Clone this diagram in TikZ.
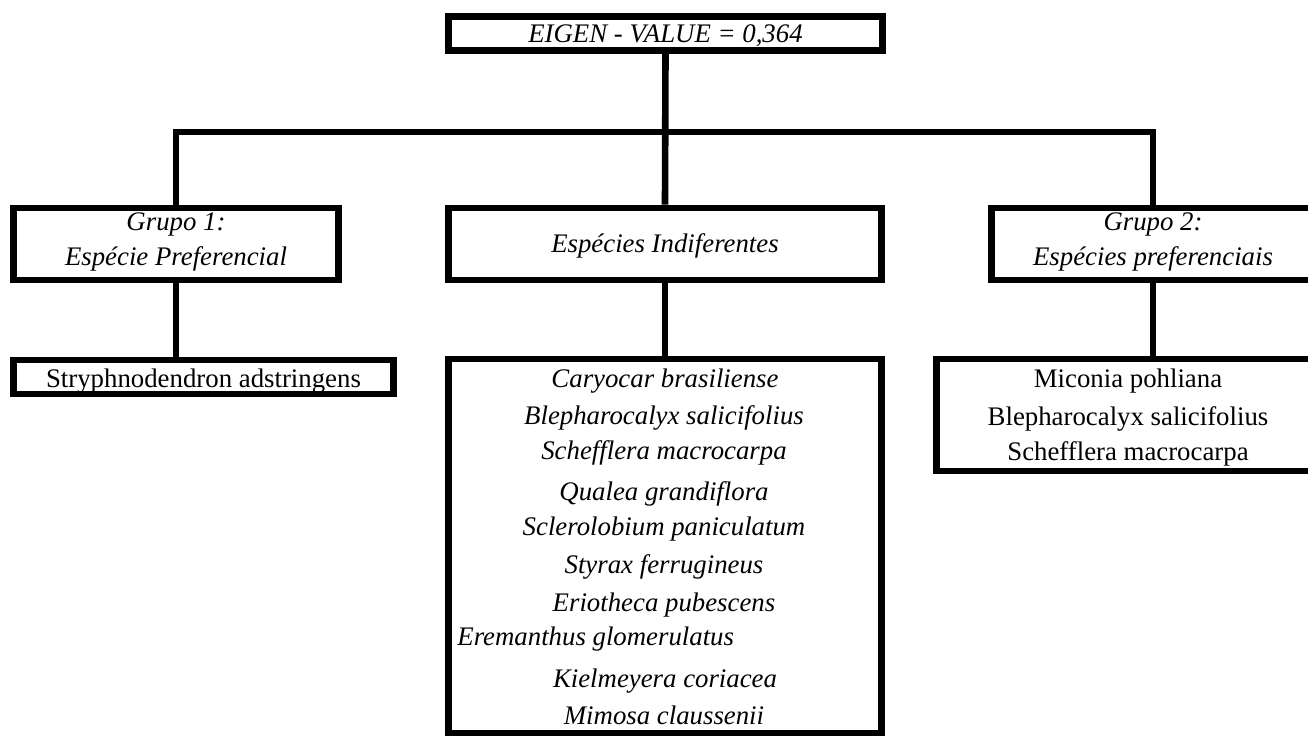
\documentclass[tikz,border=0pt]{standalone}
\usepackage{fontspec}
\setmainfont{Liberation Serif}
\begin{document}
\begin{tikzpicture}[x=0.5pt,y=-0.5pt,
  box/.style={draw=black,line width=3.3pt,inner sep=0pt,rectangle},
  conn/.style={draw=black,line width=3.3pt},
  txt/.style={inner sep=0pt,anchor=base,font=\fontsize{13.4}{17}\selectfont},
  itxt/.style={txt,font=\fontsize{13.4}{17}\selectfont\itshape}]
\useasboundingbox[fill=white] (0,0) rectangle (1308,736);
% boxes
\node[box,minimum width=217pt,minimum height=17pt] (top) at (665.5,33.5) {};
\node[box,minimum width=162.5pt,minimum height=36pt] (g1) at (176,244) {};
\node[box,minimum width=216.5pt,minimum height=36pt] (mid) at (665,244) {};
\node[box,minimum width=161.5pt,minimum height=36pt] (g2) at (1153,244) {};
\node[box,minimum width=190pt,minimum height=17pt] (stry) at (203.5,377) {};
\node[box,minimum width=216.5pt,minimum height=187pt] (ind) at (665,546) {};
\node[box,minimum width=191.5pt,minimum height=56pt] (pref) at (1128,415) {};
\coordinate (bus) at (665,132);
% connectors
\draw[conn] (top.south) -- (mid.north);
\draw[conn] (g1.north) -- (g1.north |- bus) -- (g2.north |- bus) -- (g2.north);
\draw[conn] (g1.south) -- (g1.south |- stry.north);
\draw[conn] (mid.south) -- (ind.north);
\draw[conn] (g2.south) -- (g2.south |- pref.north);
% texts
\node[itxt] (ttop) at (665.5,42) {EIGEN - VALUE = 0,364};
\node[itxt] (tg1a) at (176,230) {Grupo 1:};
\node[itxt] (tg1b) at (176,265) {Espécie Preferencial};
\node[itxt] (tmid) at (665,252) {Espécies Indiferentes};
\node[itxt] (tg2a) at (1153,230) {Grupo 2:};
\node[itxt] (tg2b) at (1153,265) {Espécies preferenciais};
\node[txt] (tstry) at (203.5,387) {Stryphnodendron adstringens};
\node[itxt] (s1) at (665,387) {Caryocar brasiliense};
\node[itxt] (s2) at (664,424) {Blepharocalyx salicifolius};
\node[itxt] (s3) at (664,459) {Schefflera macrocarpa};
\node[itxt] (s4) at (664,500) {Qualea grandiflora};
\node[itxt] (s5) at (664,535) {Sclerolobium paniculatum};
\node[itxt] (s6) at (664,573) {Styrax ferrugineus};
\node[itxt] (s7) at (664,611) {Eriotheca pubescens};
\node[itxt,anchor=base west] (s8) at (457,645) {Eremanthus glomerulatus};
\node[itxt] (s9) at (665,687) {Kielmeyera coriacea};
\node[itxt] (s10) at (664,724) {Mimosa claussenii};
\node[txt] (p1) at (1128,387) {Miconia pohliana};
\node[txt] (p2) at (1128,425) {Blepharocalyx salicifolius};
\node[txt] (p3) at (1128,460) {Schefflera macrocarpa};
\end{tikzpicture}
\end{document}
